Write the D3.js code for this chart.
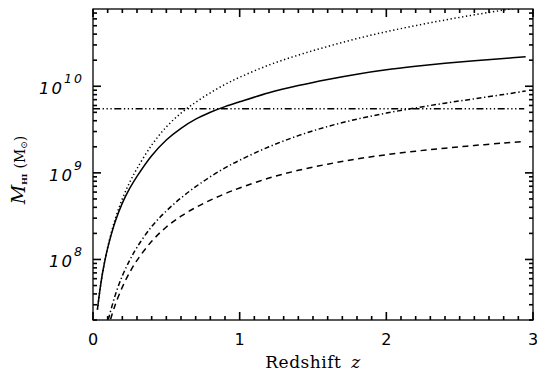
<!DOCTYPE html>
<html>
<head>
<meta charset="utf-8">
<script src="https://cdn.jsdelivr.net/npm/d3@7"></script>
<style>
  html, body { margin: 0; padding: 0; background: #fff; }
  svg { display: block; }
</style>
</head>
<body>
<svg id="chart" width="537" height="372"></svg>
<script>
// Redshift grid shared by the solid and dotted curves
const zGrid = [0.03, 0.05, 0.07, 0.1, 0.15, 0.2, 0.25, 0.3, 0.4, 0.5, 0.6, 0.7, 0.8, 0.9,
               1.0, 1.2, 1.4, 1.6, 1.8, 2.0, 2.2, 2.4, 2.6, 2.8, 2.95];
// HI mass limits in solar masses
const mSolid = [2.63e7, 4.79e7, 7.76e7, 1.35e8, 2.69e8, 4.47e8, 6.61e8, 9.12e8, 1.58e9, 2.40e9,
                3.27e9, 4.17e9, 5.01e9, 5.82e9, 6.61e9, 8.41e9, 1.02e10, 1.20e10, 1.38e10,
                1.55e10, 1.70e10, 1.84e10, 1.97e10, 2.09e10, 2.19e10];
const mDotted = [2.63e7, 4.79e7, 7.76e7, 1.38e8, 2.88e8, 5.01e8, 7.76e8, 1.12e9, 2.09e9, 3.39e9,
                 4.90e9, 6.53e9, 8.41e9, 1.05e10, 1.27e10, 1.76e10, 2.29e10, 2.88e10, 3.55e10,
                 4.27e10, 5.01e10, 5.82e10, 6.68e10, 7.59e10, 8.32e10];
const zDashDot = [0.105, 0.15, 0.2, 0.25, 0.3, 0.4, 0.5, 0.6, 0.7, 0.8, 0.9, 1.0, 1.2, 1.4,
                  1.6, 1.8, 2.0, 2.2, 2.4, 2.6, 2.8, 2.95];
const mDashDot = [2.04e7, 3.80e7, 6.46e7, 9.77e7, 1.38e8, 2.40e8, 3.63e8, 5.13e8, 6.92e8, 9.02e8,
                  1.14e9, 1.40e9, 2.00e9, 2.69e9, 3.43e9, 4.17e9, 4.90e9, 5.62e9, 6.38e9,
                  7.16e9, 8.04e9, 8.81e9];
const zDashed = [0.12, 0.15, 0.2, 0.25, 0.3, 0.4, 0.5, 0.6, 0.7, 0.8, 0.9, 1.0, 1.2, 1.4,
                 1.6, 1.8, 2.0, 2.2, 2.4, 2.6, 2.8, 2.92];
const mDashed = [2.04e7, 2.95e7, 4.79e7, 7.08e7, 9.77e7, 1.62e8, 2.37e8, 3.16e8, 3.98e8, 4.84e8,
                 5.75e8, 6.68e8, 8.71e8, 1.07e9, 1.26e9, 1.45e9, 1.62e9, 1.78e9, 1.93e9,
                 2.07e9, 2.21e9, 2.29e9];
// Constant reference mass
const zLimit = [0, 2.94];
const mLimit = 5.5e9;

const xTicks = [0, 1, 2, 3];
const xTickLabels = ["0", "1", "2", "3"];
const yMajor = [1e8, 1e9, 1e10];
const yExponents = ["8", "9", "10"];

(function draw() {
  const svg = d3.select("#chart");
  const pL = 93, pR = 533, pT = 9, pB = 320;

  const x = d3.scaleLinear().domain([0, 3]).range([pL, pR]);
  const y = d3.scaleLog().domain([2e7, 7.8e10]).range([pB, pT]);

  // minor tick positions
  const xMinor = d3.range(1, 30).filter(i => i % 10 !== 0).map(i => i / 10);
  const yMinor = y.ticks().filter(v => !yMajor.some(m => Math.abs(v / m - 1) < 1e-6));

  // inward ticks on all four sides, drawn as thin filled bars
  const tk = svg.append("g").attr("fill", "#000");
  const w = 1.6;
  const xt = [...xTicks.map(v => [v, 8]), ...xMinor.map(v => [v, 4])];
  const yt = [...yMajor.map(v => [v, 8]), ...yMinor.map(v => [v, 4])];
  xt.forEach(([v, len]) => {
    const px = x(v);
    tk.append("rect").attr("x", px - w / 2).attr("y", pB - len).attr("width", w).attr("height", len);
    tk.append("rect").attr("x", px - w / 2).attr("y", pT).attr("width", w).attr("height", len);
  });
  yt.forEach(([v, len]) => {
    const py = y(v);
    tk.append("rect").attr("x", pL).attr("y", py - w / 2).attr("width", len).attr("height", w);
    tk.append("rect").attr("x", pR - len).attr("y", py - w / 2).attr("width", len).attr("height", w);
  });

  // frame
  svg.append("rect").attr("x", pL).attr("y", pT)
    .attr("width", pR - pL).attr("height", pB - pT)
    .attr("fill", "none").attr("stroke", "#000").attr("stroke-width", 1.3);

  // clip region
  svg.append("clipPath").attr("id", "plotClip").append("rect")
    .attr("x", pL).attr("y", pT).attr("width", pR - pL).attr("height", pB - pT);

  const line = d3.line().x(d => x(d[0])).y(d => y(d[1])).curve(d3.curveCatmullRom.alpha(0.5));
  const plot = svg.append("g").attr("clip-path", "url(#plotClip)");

  const series = [
    { z: zGrid, m: mSolid, dash: null },
    { z: zGrid, m: mDotted, dash: "1.3 2.6" },
    { z: zDashDot, m: mDashDot, dash: "5 2.6 1.3 2.6" },
    { z: zDashed, m: mDashed, dash: "6 4.5" },
    { z: zLimit, m: zLimit.map(() => mLimit), dash: "7 2.6 1.3 2.6 1.3 2.6 1.3 2.6" }
  ];
  series.forEach(s => {
    plot.append("path")
      .datum(s.z.map((z, i) => [z, s.m[i]]))
      .attr("d", line)
      .attr("fill", "none")
      .attr("stroke", "#000")
      .attr("stroke-width", 1.5)
      .attr("stroke-dasharray", s.dash);
  });

  // x tick labels
  svg.append("g").selectAll("text").data(xTicks).join("text")
    .attr("x", d => x(d)).attr("y", 345)
    .attr("text-anchor", "middle")
    .attr("font-family", "DejaVu Sans")
    .attr("font-size", 16)
    .text((d, i) => xTickLabels[i]);

  // y tick labels: 10 with superscript exponent
  const yl = svg.append("g");
  yMajor.forEach((v, i) => {
    const t = yl.append("text")
      .attr("x", 84).attr("y", y(v) + 8)
      .attr("text-anchor", "end")
      .attr("font-family", "DejaVu Sans")
      .attr("font-style", "italic")
      .attr("letter-spacing", 2);
    t.append("tspan").attr("font-size", 16.5).text("10");
    t.append("tspan").attr("font-size", 12.5).attr("dy", -11).text(yExponents[i]);
  });

  // x axis title
  const xTitle = svg.append("text")
    .attr("x", (pL + pR) / 2).attr("y", 368)
    .attr("text-anchor", "middle")
    .attr("font-family", "DejaVu Serif")
    .attr("font-size", 17)
    .attr("letter-spacing", 0.5);
  xTitle.append("tspan").text("Redshift ");
  xTitle.append("tspan").attr("font-style", "italic").attr("dx", 4).text("z");

  // y axis title
  const yTitle = svg.append("text")
    .attr("transform", "translate(25,170) rotate(-90)")
    .attr("text-anchor", "middle")
    .attr("font-family", "DejaVu Serif");
  yTitle.append("tspan").attr("font-size", 19).attr("font-style", "italic").text("M");
  yTitle.append("tspan").attr("font-size", 8).attr("font-weight", "bold").attr("dy", 2).text("HI");
  yTitle.append("tspan").attr("font-size", 14).attr("dy", -2).attr("dx", 5).text("(M");
  yTitle.append("tspan").attr("font-size", 9).attr("dy", 2).text("⊙");
  yTitle.append("tspan").attr("font-size", 14).attr("dy", -2).text(")");
})();
</script>
</body>
</html>
